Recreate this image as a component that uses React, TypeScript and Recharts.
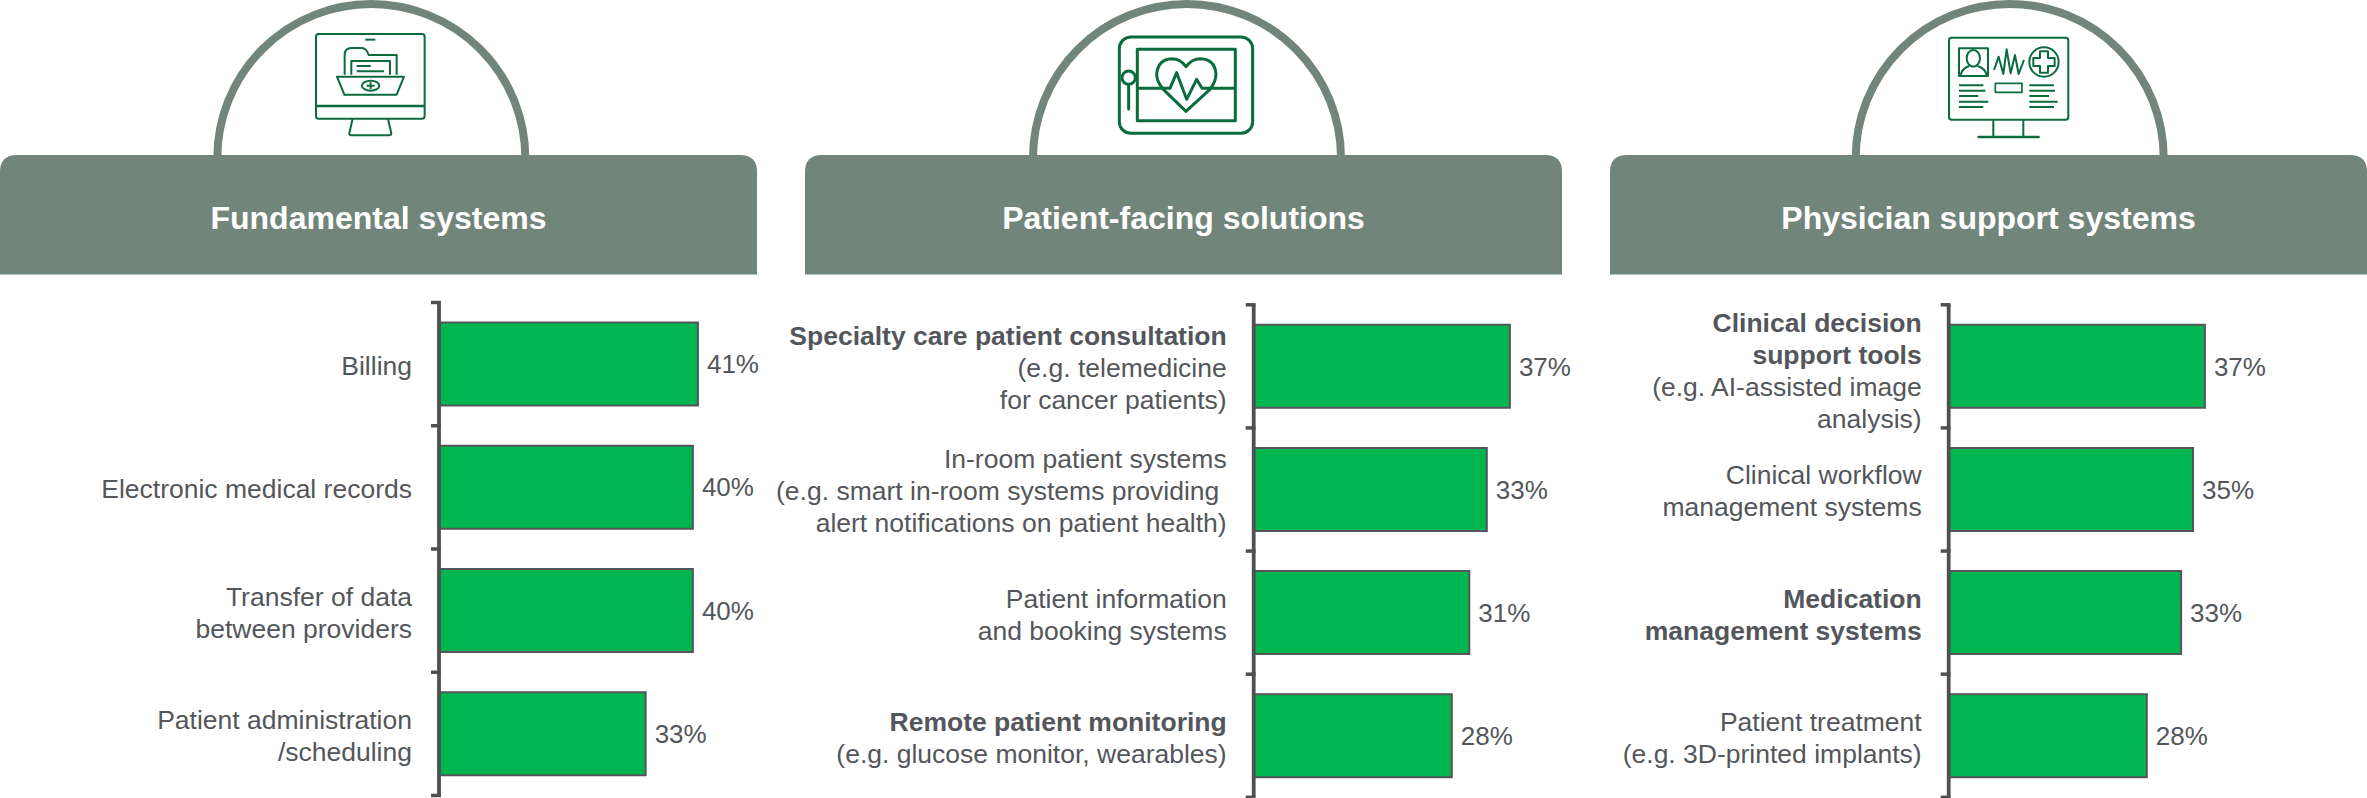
import { Bar, BarChart, LabelList, XAxis, YAxis } from "recharts";

const FONT = '"Liberation Sans", Arial, sans-serif';
const HEADER = "#72857b";
const ICON = "#0a6b3c";
const TEXT = "#53565a";
const AXIS = "#4f5052";
const BAR = "#00b650";
const TICK_LEN = 8;
const LABEL_GAP = 27;
const LINE_H = 32;
const AXIS_W = 3.8;

// Each category is a list of printed lines
const fundamentalCategories = [
  ["Billing"],
  ["Electronic medical records"],
  ["Transfer of data", "between providers"],
  ["Patient administration", "/scheduling"],
];
const fundamentalValues = [41.1, 40.3, 40.3, 32.8];

const patientCategories = [
  ["Specialty care patient consultation", "(e.g. telemedicine", "for cancer patients)"],
  ["In-room patient systems", "(e.g. smart in-room systems providing ", "alert notifications on patient health)"],
  ["Patient information", "and booking systems"],
  ["Remote patient monitoring", "(e.g. glucose monitor, wearables)"],
];
const patientValues = [36.6, 33.3, 30.8, 28.3];

const physicianCategories = [
  ["Clinical decision", "support tools", "(e.g. AI-assisted image", "analysis)"],
  ["Clinical workflow", "management systems"],
  ["Medication", "management systems"],
  ["Patient treatment", "(e.g. 3D-printed implants)"],
];
const physicianValues = [36.6, 34.9, 33.2, 28.3];

// Lines set in bold. "management systems" is only bold under Medication
const boldLines = [
  "Specialty care patient consultation",
  "Remote patient monitoring",
  "Clinical decision",
  "support tools",
  "Medication",
];

const titles = ["Fundamental systems", "Patient-facing solutions", "Physician support systems"];

function rows(categories: string[][], values: number[]) {
  return categories.map((lines, i) => ({ name: lines.join(" "), lines, value: values[i] }));
}

function CategoryTick(props: any) {
  const { x, y, index, band, categories } = props;
  const lines: string[] = categories[index];
  const isBoldBlock = lines[0] === "Medication";
  const extra = lines.length === 4 ? 3 : 0;
  const first = y - ((lines.length - 1) * LINE_H) / 2 + 11 + extra;
  const tickEnd = x + AXIS_W / 2;
  return (
    <g>
      <line x1={x - TICK_LEN} x2={tickEnd} y1={y - band / 2} y2={y - band / 2} stroke={AXIS} strokeWidth={3.5} />
      {index === categories.length - 1 && (
        <line x1={x - TICK_LEN} x2={tickEnd} y1={y + band / 2} y2={y + band / 2} stroke={AXIS} strokeWidth={3.5} />
      )}
      <text textAnchor="end" fontSize={26.5} fontFamily={FONT} fill={TEXT} style={{ whiteSpace: "pre" }}>
        {lines.map((line, i) => (
          <tspan
            key={i}
            x={x - LABEL_GAP}
            y={first + i * LINE_H}
            fontWeight={boldLines.includes(line) || isBoldBlock ? 700 : 400}
          >
            {line}
          </tspan>
        ))}
      </text>
    </g>
  );
}

function Panel({
  left,
  width,
  axisWidth,
  top,
  bottom,
  domainMax,
  scale,
  categories,
  values,
}: {
  left: number;
  width: number;
  axisWidth: number;
  top: number;
  bottom: number;
  domainMax: number;
  scale: number;
  categories: string[][];
  values: number[];
}) {
  const band = (798 - top - bottom) / categories.length;
  return (
    <div style={{ position: "absolute", left, top: 0 }}>
      <BarChart
        width={width}
        height={798}
        layout="vertical"
        data={rows(categories, values)}
        margin={{ top, bottom, left: 0, right: width - axisWidth - domainMax * scale }}
      >
        <XAxis type="number" hide domain={[0, domainMax]} />
        <YAxis
          type="category"
          dataKey="name"
          width={axisWidth}
          interval={0}
          tickLine={false}
          tickSize={0}
          tickMargin={0}
          axisLine={{ stroke: AXIS, strokeWidth: AXIS_W }}
          tick={(p: any) => <CategoryTick {...p} band={band} categories={categories} />}
        />
        <Bar dataKey="value" fill={BAR} stroke={TEXT} strokeWidth={2} barSize={83} isAnimationActive={false}>
          <LabelList
            dataKey="value"
            position="right"
            offset={9}
            fill={TEXT}
            fontSize={26}
            fontFamily={FONT}
            formatter={(v: any) => `${Math.round(v)}%`}
          />
        </Bar>
      </BarChart>
    </div>
  );
}

// Icons are traced in 3x crop coordinates, hence the scale(1/3)
function FolderIcon() {
  return (
    <g transform="translate(180 0) scale(0.3333)" fill="none" stroke={ICON} strokeWidth={6} strokeLinejoin="round">
      <rect x={408} y={102} width={326} height={254} rx={8} />
      <path d="M408 318H734" strokeWidth={8} />
      <path d="M556 119H586" />
      <path d="M518 356L508 400Q508 406 514 406H628Q634 406 634 400L624 356" />
      <path d="M494 224V165Q494 144 515 144H545Q560 144 566 165H650V224" />
      <path d="M514 224V183H630V224" />
      <path d="M530 198H572M530 214H612" />
      <path d="M471 230H672L650 284H493Z" />
      <ellipse cx={572} cy={257} rx={26} ry={15} />
      <path d="M560 257H584M572 247V267" />
    </g>
  );
}

function HeartIcon() {
  return (
    <g transform="translate(1000 0) scale(0.3333)" fill="none" stroke={ICON} strokeWidth={9} strokeLinejoin="round">
      <rect x={358} y={111} width={400} height={289} rx={35} />
      <rect x={412} y={148} width={294} height={214} />
      <path d="M412 265H510L530 218L560 298L590 238L606 265H706" />
      <path d="M558 334L490 268Q470 245 470 222Q474 178 515 176Q542 176 558 200Q575 176 602 176Q645 178 648 222Q648 245 630 268Z" />
      <circle cx={386} cy={233} r={20} fill="#fff" />
      <path d="M386 253V327" strokeLinecap="round" />
    </g>
  );
}

function MonitorIcon() {
  return (
    <g transform="translate(1800 0) scale(0.3333)" fill="none" stroke={ICON} strokeWidth={6} strokeLinejoin="round">
      <rect x={447} y={113} width={358} height={246} rx={8} />
      <path d="M580 359V410M670 359V410" />
      <path d="M536 411H716" strokeWidth={7} strokeLinecap="round" />
      <rect x={477} y={145} width={87} height={83} />
      <ellipse cx={520} cy={175} rx={20} ry={25} />
      <path d="M482 225Q486 205 508 198M532 198Q556 205 560 225" />
      <path d="M582 210L596 170L610 222L620 148L632 220L645 165L656 222L672 180" />
      <circle cx={732} cy={186} r={44} />
      <path d="M720 154H744V174H764V198H744V218H720V198H700V174H720Z" />
      <path d="M477 256H550M477 272H556M477 288H535M477 305H565M477 321H550" />
      <path d="M688 256H762M688 272H765M688 288H747M688 305H773M688 321H762" />
      <rect x={586} y={250} width={80} height={27} strokeWidth={5} />
    </g>
  );
}

function Header({ left, archX, title }: { left: number; archX: number; title: string }) {
  return (
    <g>
      <path
        d={`M${archX - 154} 158A154 154 0 0 1 ${archX + 154} 158`}
        fill="#fff"
        stroke={HEADER}
        strokeWidth={8}
      />
      <path
        d={`M${left} 274.5V172Q${left} 155 ${left + 17} 155H${left + 740}Q${left + 757} 155 ${left + 757} 172V274.5Z`}
        fill={HEADER}
      />
      <text
        x={left + 378.5}
        y={229}
        textAnchor="middle"
        fill="#fff"
        fontSize={32}
        fontWeight={700}
        fontFamily={FONT}
      >
        {title}
      </text>
    </g>
  );
}

export default function App() {
  return (
    <div
      style={{
        position: "absolute",
        left: 0,
        top: 0,
        width: 2367,
        height: 798,
        overflow: "hidden",
        background: "#fff",
        fontFamily: FONT,
      }}
    >
      <svg width={2367} height={798} style={{ position: "absolute", left: 0, top: 0 }}>
        <Header left={0} archX={371.3} title={titles[0]} />
        <Header left={805} archX={1187} title={titles[1]} />
        <Header left={1610} archX={2009.7} title={titles[2]} />
        <FolderIcon />
        <HeartIcon />
        <MonitorIcon />
      </svg>
      <Panel
        left={0}
        width={770}
        axisWidth={439}
        top={302.5}
        bottom={2.5}
        domainMax={50}
        scale={6.3}
        categories={fundamentalCategories}
        values={fundamentalValues}
      />
      <Panel
        left={770}
        width={840}
        axisWidth={483.7}
        top={304.8}
        bottom={0.7}
        domainMax={45}
        scale={7}
        categories={patientCategories}
        values={patientValues}
      />
      <Panel
        left={1610}
        width={757}
        axisWidth={338.7}
        top={304.8}
        bottom={0.7}
        domainMax={40}
        scale={7}
        categories={physicianCategories}
        values={physicianValues}
      />
    </div>
  );
}
